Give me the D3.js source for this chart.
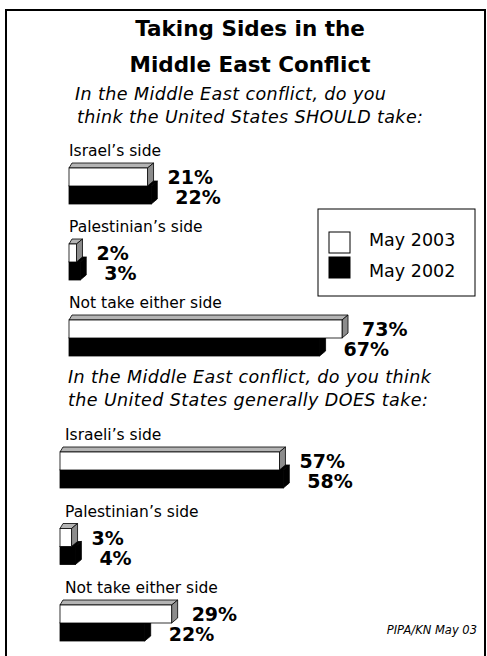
<!DOCTYPE html>
<html>
<head>
<meta charset="utf-8">
<script src="https://cdn.jsdelivr.net/npm/d3@7"></script>
<style>
  body { margin: 0; background: #fff; }
  svg { display: block; }
  text { font-family: "DejaVu Sans", "Noto Sans", sans-serif; fill: #000; }
</style>
</head>
<body>
<svg id="chart"></svg>
<script>
const years = ["May 2003", "May 2002"];

const shouldCats = ["Israel’s side", "Palestinian’s side", "Not take either side"];
const should2003 = [21, 2, 73];
const should2002 = [22, 3, 67];

const doesCats = ["Israeli’s side", "Palestinian’s side", "Not take either side"];
const does2003 = [57, 3, 29];
const does2002 = [58, 4, 22];

const titleLines = ["Taking Sides in the", "Middle East Conflict"];
const shouldQuestion = ["In the Middle East conflict, do you", "think the United States SHOULD take:"];
const doesQuestion = ["In the Middle East conflict, do you think", "the United States generally DOES take:"];
const source = "PIPA/KN May 03";

const W = 487, H = 656;
const BAR_H = 18;
const DEPTH = { left: 3, right: 6, up: 5 };

const svg = d3.select("#chart").attr("width", W).attr("height", H);

// frame
svg.append("rect")
  .attr("x", 6).attr("y", 10)
  .attr("width", 479).attr("height", 660)
  .attr("fill", "none").attr("stroke", "#000").attr("stroke-width", 2);

// title
svg.append("g").selectAll("text")
  .data(titleLines)
  .join("text")
  .attr("x", 250)
  .attr("y", (d, i) => 36 + i * 36)
  .attr("text-anchor", "middle")
  .attr("font-size", 21.5)
  .attr("font-weight", "bold")
  .text(d => d);

// 3D bar: front rect + top face + right side face
function bar3d(g, x0, x1, y, fill, topFill, sideFill) {
  const d = DEPTH;
  g.append("path")
    .attr("d", `M${x0},${y}L${x0 + d.left},${y - d.up}L${x1 + d.right},${y - d.up}L${x1},${y}Z`)
    .attr("fill", topFill).attr("stroke", "#000").attr("stroke-width", 0.8);
  g.append("path")
    .attr("d", `M${x1},${y}L${x1 + d.right},${y - d.up}L${x1 + d.right},${y + BAR_H - d.up}L${x1},${y + BAR_H}Z`)
    .attr("fill", sideFill).attr("stroke", "#000").attr("stroke-width", 0.8);
  g.append("rect")
    .attr("x", x0).attr("y", y)
    .attr("width", Math.max(0, x1 - x0)).attr("height", BAR_H)
    .attr("fill", fill).attr("stroke", "#000").attr("stroke-width", 0.8);
}

function panel(cats, v2003, v2002, question, qx, qy, x, y, labelX) {
  const g = svg.append("g");

  g.selectAll("text.q")
    .data(question)
    .join("text")
    .attr("class", "q")
    .attr("x", (d, i) => qx + (i === 1 && qx > 70 ? 2 : 0))
    .attr("y", (d, i) => qy + i * 22.5)
    .attr("font-size", 17.5)
    .attr("letter-spacing", 0.4)
    .attr("font-style", "italic")
    .text(d => d);

  cats.forEach((c, i) => {
    const top = y(c);
    g.append("text")
      .attr("x", labelX)
      .attr("y", top - 12)
      .attr("font-size", 15.5)
      .text(c);

    const x0 = x(0);
    const xb = x(v2002[i]);
    const xw = x(v2003[i]);
    // black (2002) bar sits below and behind the white (2003) bar
    bar3d(g, x0, xb, top + BAR_H, "#000", "#000", "#000");
    bar3d(g, x0, xw, top, "#fff", "#b4b4b4", "#8c8c8c");

    g.append("text")
      .attr("x", xw + 20)
      .attr("y", top + BAR_H - 2)
      .attr("font-size", 19)
      .attr("font-weight", "bold")
      .text(v2003[i] + "%");
    g.append("text")
      .attr("x", xb + 24)
      .attr("y", top + 2 * BAR_H)
      .attr("font-size", 19)
      .attr("font-weight", "bold")
      .text(v2002[i] + "%");
  });
}

const xShould = d3.scaleLinear().domain([0, 100]).range([69, 443]);
const yShould = d3.scalePoint().domain(shouldCats).range([168, 320]);
panel(shouldCats, should2003, should2002, shouldQuestion, 75, 100, xShould, yShould, 69);

const xDoes = d3.scaleLinear().domain([0, 100]).range([60, 445]);
const yDoes = d3.scalePoint().domain(doesCats).range([452, 605]);
panel(doesCats, does2003, does2002, doesQuestion, 68, 383, xDoes, yDoes, 65);

// legend
const legend = svg.append("g");
legend.append("rect")
  .attr("x", 318).attr("y", 209).attr("width", 157).attr("height", 87)
  .attr("fill", "#fff").attr("stroke", "#000").attr("stroke-width", 1);
legend.selectAll("rect.sw")
  .data(years)
  .join("rect")
  .attr("class", "sw")
  .attr("x", 329).attr("y", (d, i) => 232 + i * 25)
  .attr("width", 21).attr("height", 21)
  .attr("fill", (d, i) => i === 0 ? "#fff" : "#000")
  .attr("stroke", "#000").attr("stroke-width", 1);
legend.selectAll("text")
  .data(years)
  .join("text")
  .attr("x", 369).attr("y", (d, i) => 246 + i * 31)
  .attr("font-size", 17.5)
  .text(d => d);

// source
svg.append("text")
  .attr("x", 477).attr("y", 634)
  .attr("text-anchor", "end")
  .attr("font-size", 11.5)
  .attr("font-style", "italic")
  .text(source);
</script>
</body>
</html>
